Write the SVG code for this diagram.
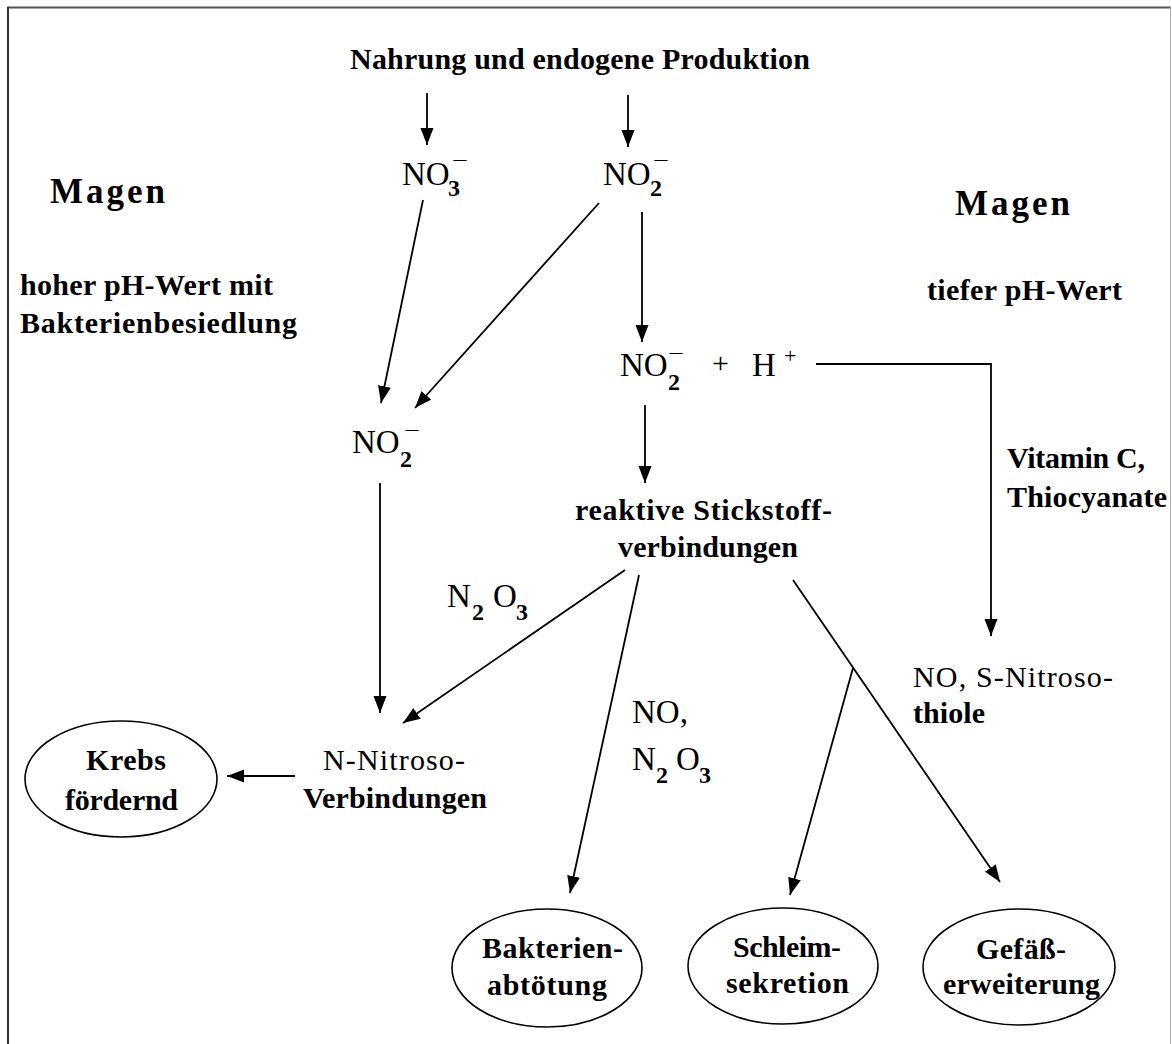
<svg xmlns="http://www.w3.org/2000/svg" width="1172" height="1044" viewBox="0 0 1172 1044">
<defs>
<marker id="ah" markerUnits="userSpaceOnUse" markerWidth="18" markerHeight="14" refX="17" refY="6.5" orient="auto">
<path d="M0,0 L17,6.5 L0,13 z" fill="#000"/>
</marker>
<style>
text{font-family:"Liberation Serif","Times New Roman",serif;fill:#000}
.b{font-weight:bold;font-size:30px}
.r{font-size:30px}
.m{font-weight:bold;font-size:35px}
.f{font-size:33px}
.sub{font-weight:bold;font-size:24px}
.sup{font-size:20px}
.c line,.c polyline{stroke:#000;stroke-width:1.8;fill:none;marker-end:url(#ah)}
ellipse{fill:#fff;stroke:#000;stroke-width:1.6}
</style>
</defs>
<rect width="1172" height="1044" fill="#fff"/>
<g id="frame">
<line x1="7" y1="7.5" x2="1171" y2="7.5" stroke="#555" stroke-width="2"/>
<line x1="8" y1="7" x2="8" y2="1044" stroke="#333" stroke-width="2"/>
<line x1="1170.5" y1="7" x2="1170.5" y2="1044" stroke="#aaa" stroke-width="1"/>
</g>
<g id="title"><text class="b" x="350" y="69" textLength="460">Nahrung und endogene Produktion</text></g>
<g id="magen-left">
<text class="m" x="50" y="203" textLength="115">Magen</text>
<text class="b" x="20" y="295" textLength="253">hoher pH-Wert mit</text>
<text class="b" x="20" y="333" textLength="277">Bakterienbesiedlung</text>
</g>
<g id="magen-right">
<text class="m" x="955" y="215" textLength="115">Magen</text>
<text class="b" x="927" y="300" textLength="195">tiefer pH-Wert</text>
</g>
<g id="no3">
<text class="f" x="402" y="185">NO</text>
<text class="sub" x="448" y="196">3</text>
<text class="sup" x="452" y="167" textLength="16" lengthAdjust="spacingAndGlyphs">−</text>
</g>
<g id="no2-top">
<text class="f" x="603" y="185">NO</text>
<text class="sub" x="650" y="196">2</text>
<text class="sup" x="653" y="167" textLength="16" lengthAdjust="spacingAndGlyphs">−</text>
</g>
<g id="no2-left">
<text class="f" x="352" y="453">NO</text>
<text class="sub" x="400" y="467">2</text>
<text class="sup" x="404" y="437" textLength="16" lengthAdjust="spacingAndGlyphs">−</text>
</g>
<g id="no2-h">
<text class="f" x="620" y="376">NO</text>
<text class="sub" x="668" y="390">2</text>
<text class="sup" x="668" y="360" textLength="16" lengthAdjust="spacingAndGlyphs">−</text>
<text class="r" x="712" y="373">+</text>
<text class="f" x="752" y="376">H</text>
<text style="font-size:22px" x="784" y="363">+</text>
</g>
<g id="reaktive">
<text class="b" x="575" y="520" textLength="257">reaktive Stickstoff-</text>
<text class="b" x="618" y="557" textLength="180">verbindungen</text>
</g>
<g id="vitamin">
<text class="b" x="1007" y="468" textLength="138">Vitamin C,</text>
<text class="b" x="1007" y="507" textLength="160">Thiocyanate</text>
</g>
<g id="n2o3-upper">
<text class="f" x="447" y="607">N</text>
<text class="sub" x="472" y="620">2</text>
<text class="f" x="493" y="607">O</text>
<text class="sub" x="516" y="620">3</text>
</g>
<g id="no-n2o3">
<text class="f" x="632" y="723">NO,</text>
<text class="f" x="632" y="770">N</text>
<text class="sub" x="656" y="783">2</text>
<text class="f" x="676" y="770">O</text>
<text class="sub" x="699" y="783">3</text>
</g>
<g id="no-snitroso">
<text class="r" x="913" y="687" textLength="200">NO, S-Nitroso-</text>
<text class="b" x="913" y="723" textLength="72">thiole</text>
</g>
<g id="n-nitroso">
<text class="r" x="323" y="770" textLength="142">N-Nitroso-</text>
<text class="b" x="303" y="808" textLength="184">Verbindungen</text>
</g>
<g id="krebs">
<ellipse cx="121" cy="779" rx="96" ry="58"/>
<text class="b" x="86" y="770" textLength="80">Krebs</text>
<text class="b" x="65" y="810" textLength="113">fördernd</text>
</g>
<g id="bakterien">
<ellipse cx="547" cy="968" rx="95" ry="59"/>
<text class="b" x="482" y="958" textLength="141">Bakterien-</text>
<text class="b" x="487" y="995" textLength="120">abtötung</text>
</g>
<g id="schleim">
<ellipse cx="783" cy="966" rx="95" ry="58"/>
<text class="b" x="733" y="957" textLength="108">Schleim-</text>
<text class="b" x="726" y="993" textLength="123">sekretion</text>
</g>
<g id="gefaess">
<ellipse cx="1019" cy="967" rx="96" ry="58"/>
<text class="b" x="976" y="959" textLength="90">Gefäß-</text>
<text class="b" x="943" y="994" textLength="157">erweiterung</text>
</g>
<g id="connectors" class="c">
<line x1="427" y1="93" x2="427" y2="145"/>
<line x1="628" y1="95" x2="628" y2="147"/>
<line x1="423" y1="200" x2="381" y2="403"/>
<line x1="599" y1="203" x2="415" y2="408"/>
<line x1="642" y1="212" x2="642" y2="342"/>
<line x1="645" y1="405" x2="645" y2="483"/>
<line x1="380" y1="483" x2="380" y2="713"/>
<line x1="625" y1="570" x2="403" y2="723"/>
<line x1="639" y1="575" x2="570" y2="893"/>
<line x1="793" y1="580" x2="1000" y2="882"/>
<line x1="853" y1="668" x2="790" y2="895"/>
<polyline points="816,364 991,364 991,636"/>
<line x1="295" y1="776" x2="227" y2="776"/>
</g>
</svg>
